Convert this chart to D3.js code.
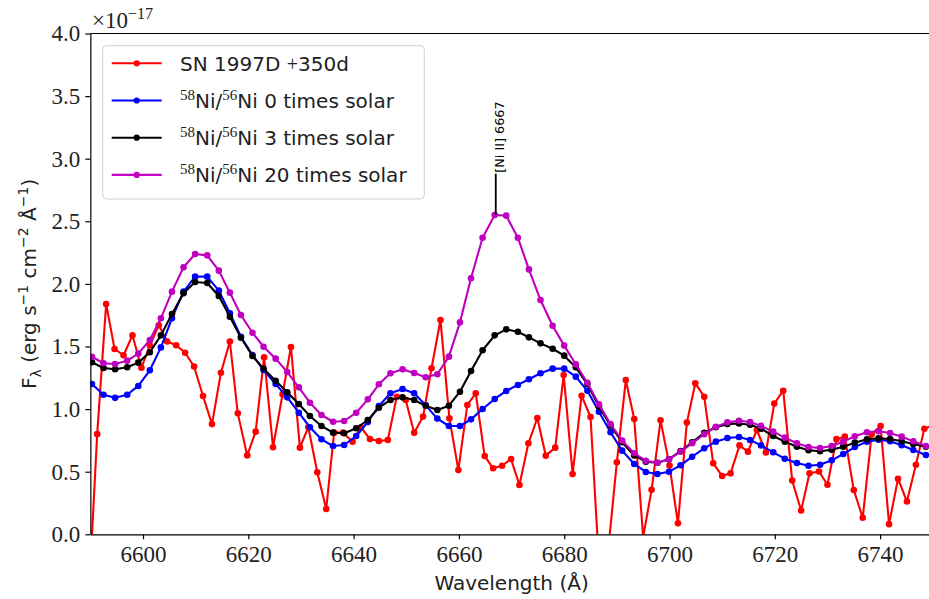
<!DOCTYPE html>
<html>
<head>
<meta charset="utf-8">
<script src="https://cdn.jsdelivr.net/npm/d3@7"></script>
<style>
  body { margin: 0; background: #fff; }
  svg { display: block; }
</style>
</head>
<body>
<div id="chart"></div>
<script>
// model wavelength grid (Angstrom) and fluxes in units of 1e-17
const modelWave = [
  6590.3, 6592.5, 6594.7, 6597.0, 6599.1, 6601.3, 6603.4, 6605.5, 6607.7, 6609.9,
  6612.2, 6614.4, 6616.5, 6618.6, 6620.8, 6622.9, 6625.2, 6627.4, 6629.6, 6631.7,
  6633.9, 6636.1, 6638.2, 6640.5, 6642.7, 6644.8, 6647.0, 6649.3, 6651.5, 6653.7,
  6655.9, 6658.1, 6660.2, 6662.3, 6664.5, 6666.8, 6669.0, 6671.2, 6673.3, 6675.5,
  6677.8, 6680.0, 6682.2, 6684.4, 6686.6, 6688.8, 6691.0, 6693.3, 6695.5, 6697.7,
  6699.9, 6702.1, 6704.3, 6706.6, 6708.8, 6711.0, 6713.2, 6715.3, 6717.4, 6719.7,
  6721.9, 6724.2, 6726.4, 6728.6, 6730.8, 6733.0, 6735.2, 6737.5, 6739.7, 6741.9,
  6744.1, 6746.3, 6748.7
];

const modelZero = [
  1.20, 1.115, 1.09, 1.115, 1.185, 1.31, 1.493, 1.725, 1.938, 2.058,
  2.058, 1.946, 1.765, 1.578, 1.432, 1.312, 1.20, 1.094, 0.971, 0.855,
  0.759, 0.705, 0.713, 0.785, 0.897, 1.025, 1.126, 1.161, 1.126, 1.03,
  0.924, 0.865, 0.865, 0.918, 1.001, 1.081, 1.145, 1.193, 1.238, 1.286,
  1.323, 1.323, 1.259, 1.146, 0.979, 0.815, 0.668, 0.562, 0.498, 0.482,
  0.50, 0.551, 0.62, 0.687, 0.74, 0.769, 0.777, 0.753, 0.71, 0.655,
  0.604, 0.569, 0.548, 0.556, 0.591, 0.641, 0.697, 0.74, 0.756, 0.743,
  0.711, 0.673, 0.633
];

const modelThree = [
  1.374, 1.328, 1.318, 1.334, 1.371, 1.454, 1.589, 1.76, 1.925, 2.015,
  2.007, 1.903, 1.738, 1.57, 1.424, 1.322, 1.227, 1.134, 1.041, 0.945,
  0.865, 0.812, 0.807, 0.847, 0.913, 1.011, 1.073, 1.094, 1.073, 1.026,
  0.993, 1.027, 1.139, 1.304, 1.47, 1.589, 1.637, 1.618, 1.573, 1.525,
  1.482, 1.427, 1.334, 1.20, 1.02, 0.87, 0.735, 0.63, 0.58, 0.572,
  0.60, 0.665, 0.735, 0.81, 0.855, 0.88, 0.885, 0.875, 0.843, 0.785,
  0.74, 0.70, 0.671, 0.663, 0.676, 0.70, 0.732, 0.759, 0.767, 0.761,
  0.743, 0.721, 0.70
];

const modelTwenty = [
  1.418, 1.366, 1.36, 1.387, 1.443, 1.552, 1.725, 1.938, 2.133, 2.239,
  2.228, 2.106, 1.93, 1.752, 1.61, 1.498, 1.403, 1.296, 1.174, 1.051,
  0.953, 0.899, 0.905, 0.971, 1.078, 1.198, 1.286, 1.318, 1.288, 1.254,
  1.278, 1.419, 1.693, 2.045, 2.369, 2.55, 2.545, 2.369, 2.116, 1.871,
  1.666, 1.507, 1.358, 1.21, 1.038, 0.881, 0.748, 0.647, 0.588, 0.572,
  0.599, 0.66, 0.727, 0.799, 0.859, 0.894, 0.907, 0.897, 0.866, 0.82,
  0.772, 0.727, 0.697, 0.689, 0.705, 0.74, 0.783, 0.815, 0.823, 0.809,
  0.78, 0.743, 0.705
];

// observed spectrum
const obsWave = [
  6589.7, 6591.3, 6593.0, 6594.6, 6596.3, 6598.0, 6599.7, 6601.3, 6603.0, 6604.6,
  6606.3, 6608.0, 6609.7, 6611.4, 6613.1, 6614.8, 6616.5, 6618.0, 6619.8, 6621.4,
  6623.0, 6624.7, 6626.5, 6628.1, 6629.8, 6631.4, 6633.1, 6634.8, 6636.3, 6638.0,
  6639.8, 6641.4, 6643.1, 6644.8, 6646.5, 6648.2, 6649.9, 6651.5, 6653.2, 6654.8,
  6656.5, 6658.2, 6659.9, 6661.6, 6663.2, 6664.9, 6666.5, 6668.2, 6669.9, 6671.5,
  6673.2, 6674.9, 6676.5, 6678.3, 6679.9, 6681.6, 6683.3, 6685.0, 6686.7, 6688.3,
  6690.0, 6691.7, 6693.3, 6695.0, 6696.6, 6698.3, 6700.0, 6701.6, 6703.3, 6704.9,
  6706.6, 6708.3, 6710.0, 6711.6, 6713.3, 6714.9, 6716.6, 6718.3, 6719.9, 6721.6,
  6723.3, 6725.0, 6726.6, 6728.4, 6730.0, 6731.7, 6733.3, 6735.0, 6736.7, 6738.4,
  6740.1, 6741.7, 6743.4, 6745.1, 6746.8, 6748.4, 6750.1
];

const obsFlux = [
  -0.5, 0.80, 1.84, 1.48, 1.43, 1.59, 1.33, 1.51, 1.67, 1.54,
  1.51, 1.45, 1.34, 1.105, 0.88, 1.29, 1.54, 0.966, 0.63, 0.82,
  1.414, 0.695, 1.118, 1.496, 0.692, 0.855, 0.495, 0.202, 0.812, 0.812,
  0.74, 0.855, 0.761, 0.745, 0.753, 1.099, 1.073, 0.812, 0.94, 1.326,
  1.712, 0.926, 0.514, 1.033, 1.126, 0.625, 0.527, 0.548, 0.601, 0.394,
  0.727, 0.929, 0.628, 0.692, 1.272, 0.482, 1.107, 0.937, -0.3, -0.15,
  0.575, 1.232, 0.921, -0.02, 0.355, 0.91, 0.55, 0.088, 0.892, 1.206,
  1.099, 0.567, 0.466, 0.487, 0.71, 0.66, 0.833, 0.653, 1.044, 1.147,
  0.43, 0.19, 0.487, 0.502, 0.396, 0.76, 0.78, 0.354, 0.132, 0.80,
  0.865, 0.081, 0.444, 0.262, 0.555, 0.843, 0.87
];

// legend labels: [text, kind]
const seriesLabels = [
  [["SN 1997D ", ""], ["+", "math"], ["350d", ""]],
  [["58", "sup"], ["Ni/", ""], ["56", "sup"], ["Ni 0 times solar", ""]],
  [["58", "sup"], ["Ni/", ""], ["56", "sup"], ["Ni 3 times solar", ""]],
  [["58", "sup"], ["Ni/", ""], ["56", "sup"], ["Ni 20 times solar", ""]]
];
const seriesColors = ["#ff0000", "#0000ff", "#000000", "#bf00bf"];

const xTicks = [6600, 6620, 6640, 6660, 6680, 6700, 6720, 6740];
const yTicks = [0, 0.5, 1.0, 1.5, 2.0, 2.5, 3.0, 3.5, 4.0];

const lineMarks = [{ label: "[Ni II] 6667", wave: 6667, from: 2.55, to: 2.88 }];

const W = 929, H = 599;
const plot = { left: 90.35, right: 932.75, top: 33.5, bottom: 534.3 };
const sans = "'DejaVu Sans', sans-serif";
const serif = "'Liberation Serif', 'DejaVu Serif', serif";

const x = d3.scaleLinear().domain([6590, 6750]).range([plot.left, plot.right]);
const y = d3.scaleLinear().domain([0, 4]).range([plot.bottom, plot.top]);

const svg = d3.select("#chart").append("svg")
  .attr("width", W)
  .attr("height", H);

svg.append("clipPath").attr("id", "plotclip")
  .append("rect")
  .attr("x", plot.left).attr("y", plot.top)
  .attr("width", plot.right - plot.left)
  .attr("height", plot.bottom - plot.top);

const series = [
  { wave: obsWave, flux: obsFlux },
  { wave: modelWave, flux: modelZero },
  { wave: modelWave, flux: modelThree },
  { wave: modelWave, flux: modelTwenty }
].map((s, i) => ({
  points: s.wave.map((w, j) => [w, s.flux[j]]),
  color: seriesColors[i],
  label: seriesLabels[i]
}));

const line = d3.line().x(d => x(d[0])).y(d => y(d[1]));

const dataG = svg.append("g").attr("clip-path", "url(#plotclip)");

series.forEach(s => {
  dataG.append("path")
    .attr("d", line(s.points))
    .attr("fill", "none")
    .attr("stroke", s.color)
    .attr("stroke-width", 2.1)
    .attr("stroke-linejoin", "round");
  dataG.selectAll(null)
    .data(s.points)
    .join("circle")
    .attr("cx", d => x(d[0]))
    .attr("cy", d => y(d[1]))
    .attr("r", 3.3)
    .attr("fill", s.color);
});

// line identification
lineMarks.forEach(m => {
  svg.append("line")
    .attr("x1", x(m.wave)).attr("x2", x(m.wave))
    .attr("y1", y(m.from)).attr("y2", y(m.to))
    .attr("stroke", "#000")
    .attr("stroke-width", 1.8);
  svg.append("text")
    .attr("transform", `translate(${x(m.wave) + 8.5},${y(m.to) - 1}) rotate(-90)`)
    .attr("font-family", sans)
    .attr("font-size", "12.8px")
    .attr("fill", "#000")
    .text(m.label);
});

// axes
const xAxis = svg.append("g")
  .attr("transform", `translate(0,${plot.bottom})`)
  .call(d3.axisBottom(x).tickValues(xTicks).tickSize(5).tickSizeOuter(0)
    .tickPadding(6).tickFormat(d3.format("d")));

const yAxis = svg.append("g")
  .attr("transform", `translate(${plot.left},0)`)
  .call(d3.axisLeft(y).tickValues(yTicks).tickSize(5).tickSizeOuter(0)
    .tickPadding(5).tickFormat(d3.format(".1f")));

[xAxis, yAxis].forEach(a => {
  a.select(".domain").attr("stroke", "#000").attr("stroke-width", 1.2);
  a.selectAll(".tick line").attr("stroke", "#000").attr("stroke-width", 1.2);
  a.selectAll(".tick text")
    .attr("font-family", serif)
    .attr("font-size", "23px")
    .attr("fill", "#222");
});

// top and right spines
svg.append("line")
  .attr("x1", plot.left).attr("x2", plot.right)
  .attr("y1", plot.top).attr("y2", plot.top)
  .attr("stroke", "#000").attr("stroke-width", 1.2);
svg.append("line")
  .attr("x1", plot.right).attr("x2", plot.right)
  .attr("y1", plot.top).attr("y2", plot.bottom)
  .attr("stroke", "#000").attr("stroke-width", 1.2);

// rich text helper
function rich(sel, parts, opts) {
  let cur = 0;
  parts.forEach(([t, kind]) => {
    const target = kind === "sup" ? -opts.sup : kind === "sub" ? opts.sub : 0;
    const small = kind === "sup" || kind === "sub";
    sel.append("tspan")
      .attr("dy", target - cur)
      .attr("font-size", small ? opts.small : opts.size)
      .attr("font-family", small ? opts.smallFamily : (kind === "math" ? serif : opts.family))
      .text(t);
    cur = target;
  });
}

// offset text
const offText = svg.append("text")
  .attr("x", 92)
  .attr("y", 28)
  .attr("fill", "#222");
rich(offText, [["×10", ""], ["−17", "sup"]],
  { size: "23px", small: "16px", family: serif, smallFamily: serif, sup: 9, sub: 0 });

// axis titles
svg.append("text")
  .attr("x", (plot.left + plot.right) / 2)
  .attr("y", 590)
  .attr("text-anchor", "middle")
  .attr("font-family", sans)
  .attr("font-size", "20px")
  .attr("fill", "#222")
  .text("Wavelength (Å)");

const yTitle = svg.append("text")
  .attr("transform", `translate(36,${(plot.top + plot.bottom) / 2}) rotate(-90)`)
  .attr("text-anchor", "middle")
  .attr("fill", "#222");
rich(yTitle, [
  ["F", ""], ["λ", "sub"], [" (erg s", ""], ["−1", "sup"], [" cm", ""],
  ["−2", "sup"], [" Å", ""], ["−1", "sup"], [")", ""]
], { size: "20px", small: "14px", family: sans, smallFamily: sans, sup: 8, sub: 5 });

// legend
const legend = svg.append("g");
legend.append("rect")
  .attr("x", 102.7).attr("y", 45.7)
  .attr("width", 321.6).attr("height", 153.3)
  .attr("rx", 4)
  .attr("fill", "#fff").attr("fill-opacity", 0.8)
  .attr("stroke", "#d0d0d0").attr("stroke-width", 1);

series.forEach((s, i) => {
  const ry = 63.3 + i * 37.2;
  legend.append("line")
    .attr("x1", 111.7).attr("x2", 161.7)
    .attr("y1", ry).attr("y2", ry)
    .attr("stroke", s.color).attr("stroke-width", 2.1);
  legend.append("circle")
    .attr("cx", 136.7).attr("cy", ry).attr("r", 3.1)
    .attr("fill", s.color);
  const t = legend.append("text")
    .attr("x", 180).attr("y", ry + 7.3)
    .attr("fill", "#222");
  rich(t, s.label, { size: "20px", small: "15px", family: sans, smallFamily: serif, sup: 8, sub: 0 });
});
</script>
</body>
</html>
